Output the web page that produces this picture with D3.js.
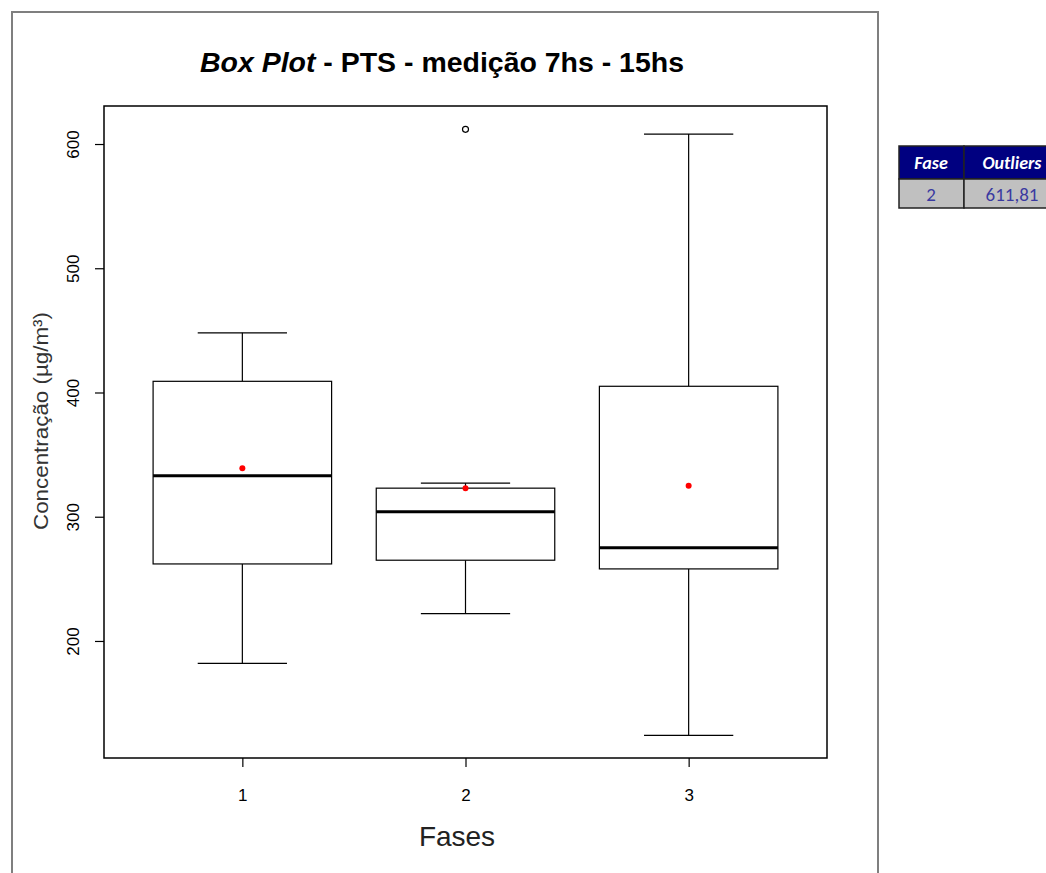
<!DOCTYPE html>
<html>
<head>
<meta charset="utf-8">
<script src="https://cdn.jsdelivr.net/npm/d3@7"></script>
<style>
  body { margin: 0; background: #fff; }
  svg { display: block; font-family: "Liberation Sans Narrow", "Liberation Sans", Arial, sans-serif; }
</style>
</head>
<body>
<div id="chart"></div>
<script>
// box plot stats per phase
var fases = ["1", "2", "3"];
var whiskerLow = [182, 222, 124];
var q1 = [262, 265, 258];
var medians = [333, 304, 275];
var q3 = [409, 323, 405];
var whiskerHigh = [448, 327, 608];
var means = [339, 323, 325];
var outlierFase = ["2"];
var outlierValues = [611.81];
var yTicks = [200, 300, 400, 500, 600];

var width = 1046, height = 873;
var plot = {left: 104, right: 827, top: 106, bottom: 758};

var svg = d3.select("#chart").append("svg")
    .attr("width", width)
    .attr("height", height);

// outer frame of the R device
svg.append("rect")
    .attr("x", 12).attr("y", 12)
    .attr("width", 866).attr("height", 900)
    .attr("fill", "none")
    .attr("stroke", "#7f7f7f")
    .attr("stroke-width", 2);

var x = d3.scaleLinear()
    .domain([0.38, 3.62])
    .range([plot.left, plot.right]);

var y = d3.scaleLinear()
    .domain([105.8, 630.6])
    .range([plot.bottom, plot.top]);

var boxW = (x(1.4) - x(0.6));

var boxes = fases.map(function(f, i) {
    return {fase: f, pos: i + 1, lo: whiskerLow[i], q1: q1[i], med: medians[i],
            q3: q3[i], hi: whiskerHigh[i], mean: means[i]};
});

var g = svg.append("g");

// whiskers
g.selectAll(".whisker-low").data(boxes).enter().append("line")
    .attr("x1", d => x(d.pos)).attr("x2", d => x(d.pos))
    .attr("y1", d => y(d.q1)).attr("y2", d => y(d.lo))
    .attr("stroke", "#000").attr("stroke-width", 1.2);
g.selectAll(".whisker-high").data(boxes).enter().append("line")
    .attr("x1", d => x(d.pos)).attr("x2", d => x(d.pos))
    .attr("y1", d => y(d.q3)).attr("y2", d => y(d.hi))
    .attr("stroke", "#000").attr("stroke-width", 1.2);

// staples
g.selectAll(".cap-low").data(boxes).enter().append("line")
    .attr("x1", d => x(d.pos) - boxW / 4).attr("x2", d => x(d.pos) + boxW / 4)
    .attr("y1", d => y(d.lo)).attr("y2", d => y(d.lo))
    .attr("stroke", "#000").attr("stroke-width", 1.2);
g.selectAll(".cap-high").data(boxes).enter().append("line")
    .attr("x1", d => x(d.pos) - boxW / 4).attr("x2", d => x(d.pos) + boxW / 4)
    .attr("y1", d => y(d.hi)).attr("y2", d => y(d.hi))
    .attr("stroke", "#000").attr("stroke-width", 1.2);

// boxes
g.selectAll(".box").data(boxes).enter().append("rect")
    .attr("x", d => x(d.pos) - boxW / 2)
    .attr("width", boxW)
    .attr("y", d => y(d.q3))
    .attr("height", d => y(d.q1) - y(d.q3))
    .attr("fill", "#fff")
    .attr("stroke", "#000").attr("stroke-width", 1.2);

// medians
g.selectAll(".median").data(boxes).enter().append("line")
    .attr("x1", d => x(d.pos) - boxW / 2).attr("x2", d => x(d.pos) + boxW / 2)
    .attr("y1", d => y(d.med)).attr("y2", d => y(d.med))
    .attr("stroke", "#000").attr("stroke-width", 3);

// means
g.selectAll(".mean").data(boxes).enter().append("circle")
    .attr("cx", d => x(d.pos))
    .attr("cy", d => y(d.mean))
    .attr("r", 3)
    .attr("fill", "#ff0000");

// outliers
g.selectAll(".outlier").data(outlierValues).enter().append("circle")
    .attr("cx", (d, i) => x(+outlierFase[i]))
    .attr("cy", d => y(d))
    .attr("r", 3)
    .attr("fill", "none")
    .attr("stroke", "#000").attr("stroke-width", 1.2);

// plot box
svg.append("rect")
    .attr("x", plot.left).attr("y", plot.top)
    .attr("width", plot.right - plot.left)
    .attr("height", plot.bottom - plot.top)
    .attr("fill", "none")
    .attr("stroke", "#000").attr("stroke-width", 1.5);

// y axis
var yAxis = svg.append("g")
    .attr("transform", "translate(" + plot.left + ",0)")
    .call(d3.axisLeft(y).tickValues(yTicks).tickSize(9).tickPadding(0).tickFormat(d3.format("d")));
yAxis.select(".domain").remove();
yAxis.selectAll("line").attr("stroke", "#000").attr("stroke-width", 1.2);
yAxis.selectAll("text")
    .attr("x", 0).attr("y", 0).attr("dy", null)
    .attr("text-anchor", "middle")
    .attr("transform", "translate(-25,0) rotate(-90)")
    .style("font-size", "17px")
    .style("font-family", "Liberation Sans, Arial, sans-serif")
    .attr("fill", "#000");

// x axis
var xAxis = svg.append("g")
    .attr("transform", "translate(0," + plot.bottom + ")")
    .call(d3.axisBottom(x).tickValues([1, 2, 3]).tickSize(9).tickPadding(22).tickFormat((d, i) => fases[i]));
xAxis.select(".domain").remove();
xAxis.selectAll("line").attr("stroke", "#000").attr("stroke-width", 1.2);
xAxis.selectAll("text")
    .style("font-size", "17px")
    .style("font-family", "Liberation Sans, Arial, sans-serif")
    .attr("fill", "#000");

// title
var title = svg.append("text")
    .attr("x", 442).attr("y", 72)
    .attr("text-anchor", "middle")
    .attr("textLength", 484)
    .attr("lengthAdjust", "spacingAndGlyphs")
    .style("font-size", "28px")
    .style("font-weight", "bold");
title.append("tspan").style("font-style", "italic").text("Box Plot");
title.append("tspan").text(" - PTS - medição 7hs - 15hs");

svg.append("text")
    .attr("x", 457).attr("y", 846)
    .attr("text-anchor", "middle")
    .style("font-size", "28px")
    .attr("fill", "#222")
    .text("Fases");

svg.append("text")
    .attr("transform", "translate(48,421) rotate(-90)")
    .attr("text-anchor", "middle")
    .attr("textLength", 218)
    .attr("lengthAdjust", "spacingAndGlyphs")
    .style("font-size", "21px")
    .attr("fill", "#333")
    .text("Concentração (µg/m³)");

// outliers table
var tbl = svg.append("g").attr("transform", "translate(899,146)");
var colX = [0, 65];
var colW = [65, 90];
var header = ["Fase", "Outliers"];
var rowH = 33;

tbl.selectAll(".hdr").data(header).enter().append("rect")
    .attr("x", (d, i) => colX[i]).attr("y", 0)
    .attr("width", (d, i) => colW[i]).attr("height", rowH)
    .attr("fill", "#000080").attr("stroke", "#222").attr("stroke-width", 1.5);
tbl.selectAll(".hdrtxt").data(header).enter().append("text")
    .attr("x", (d, i) => colX[i] + (i == 0 ? 32 : 48)).attr("y", 23)
    .attr("text-anchor", "middle")
    .style("font-family", "Carlito, Calibri, 'Open Sans', sans-serif")
    .style("font-size", "18px").style("font-weight", "bold").style("font-style", "italic")
    .attr("fill", "#fff")
    .text(d => d);

var rowVals = [outlierFase[0], d3.format(".2f")(outlierValues[0]).replace(".", ",")];
tbl.selectAll(".cell").data(rowVals).enter().append("rect")
    .attr("x", (d, i) => colX[i]).attr("y", rowH)
    .attr("width", (d, i) => colW[i]).attr("height", 29)
    .attr("fill", "#c0c0c0").attr("stroke", "#222").attr("stroke-width", 1.5);
tbl.selectAll(".celltxt").data(rowVals).enter().append("text")
    .attr("x", (d, i) => colX[i] + (i == 0 ? 32 : 48)).attr("y", rowH + 22)
    .attr("text-anchor", "middle")
    .style("font-family", "Carlito, Calibri, 'Open Sans', sans-serif")
    .style("font-size", "19px")
    .attr("fill", "#3a3aa0")
    .text(d => d);
</script>
</body>
</html>
